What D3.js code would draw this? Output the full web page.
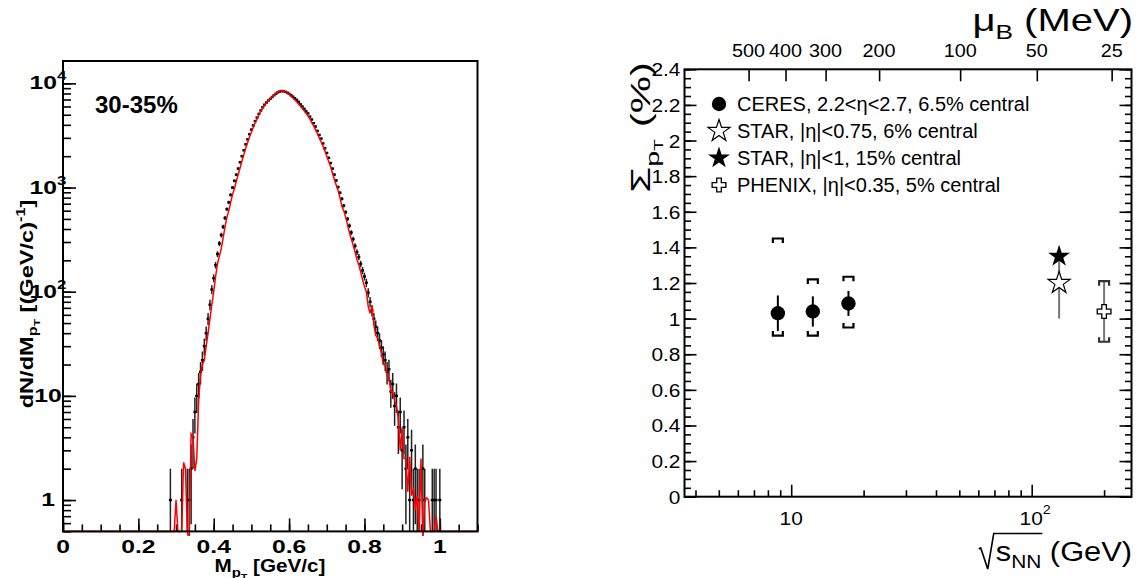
<!DOCTYPE html>
<html>
<head>
<meta charset="utf-8">
<script src="https://d3js.org/d3.v7.min.js"></script>
<style>
  body { margin: 0; background: #fff; }
  text { font-family: "Liberation Sans", Arial, Helvetica, sans-serif; fill: #000; }
</style>
</head>
<body>
<svg id="chart" width="1137" height="578"></svg>
<script>
// ---------- left panel: M_pT distribution, 30-35% centrality ----------
var massBins = d3.range(0, 145).map(function(i) { return +(0.285 + i * 0.005).toFixed(3); });
var dataCounts = [
  1, 0, 0, 0, 0, 0, 1, 0, 0, 1,
  1, 2, 4, 7, 10, 13, 17, 22, 30, 40,
  55, 75, 105, 135, 180, 230, 290, 350, 420, 510,
  620, 720, 850, 1000, 1160, 1330, 1520, 1750, 2000, 2280,
  2600, 2900, 3250, 3600, 3950, 4350, 4700, 5100, 5500, 5900,
  6250, 6550, 6850, 7100, 7400, 7700, 7950, 8200, 8350, 8450,
  8400, 8300, 8150, 7950, 7700, 7450, 7200, 6950, 6650, 6300,
  6000, 5700, 5400, 5150, 4800, 4500, 4150, 3850, 3500, 3200,
  2950, 2650, 2380, 2150, 1930, 1720, 1520, 1330, 1170, 1010,
  890, 780, 670, 580, 500, 430, 370, 320, 275, 240,
  215, 185, 160, 140, 122, 98, 80, 66, 55, 46,
  40, 34, 29, 25, 22, 17, 18, 11, 13, 8,
  10, 5, 7, 3, 5, 2, 4, 1, 3, 1,
  2, 1, 1, 0, 2, 1, 0, 0, 0, 1,
  1, 1, 0, 1, 0
];
var mixedCounts = [
  0, 0, 0, 1.0, 0, 0, 0.5, 2.3, 2.0, 0.5,
  0.4, 4.3, 4.0, 1.9, 2.5, 9, 16, 20, 22, 30,
  40, 55, 75, 100, 140, 185, 220, 260, 330, 420,
  520, 600, 720, 860, 980, 1150, 1330, 1550, 1800, 2080,
  2400, 2700, 3050, 3400, 3800, 4200, 4550, 5000, 5400, 5800,
  6150, 6500, 6850, 7150, 7450, 7750, 8050, 8300, 8450, 8500,
  8450, 8300, 8100, 7850, 7550, 7250, 6950, 6650, 6350, 6050,
  5750, 5450, 5150, 4900, 4550, 4200, 3900, 3600, 3300, 3000,
  2750, 2500, 2250, 2000, 1780, 1600, 1380, 1200, 1060, 940,
  800, 660, 600, 520, 440, 370, 320, 280, 240, 205,
  180, 155, 130, 112, 100, 72, 62, 74, 48, 38,
  36, 30, 26, 20, 20, 16, 15, 11, 11, 9,
  8, 6, 3, 5, 2.5, 2.5, 1.2, 2.6, 1.1, 1.3,
  0.8, 1.1, 0, 2.5, 0.4, 1.0, 1.05, 1.0, 0.5, 0,
  0, 0.7, 0, 0, 0
];
var massTicks = [0, 0.2, 0.4, 0.6, 0.8, 1];
var massTickLabels = ["0", "0.2", "0.4", "0.6", "0.8", "1"];
var countDecades = [1, 10, 100, 1000, 10000];
var countDecadeExp = ["", "", "2", "3", "4"];
var countDecadeBase = ["1", "10", "10", "10", "10"];
var centralityLabel = "30-35%";

// ---------- right panel: Sigma_pT vs sqrt(s_NN) ----------
var ceresSqrtS = [8.8, 12.3, 17.3];
var ceresSigma = [1.03, 1.04, 1.085];
var ceresStat = [0.10, 0.085, 0.07];
var ceresSysUp = [1.45, 1.22, 1.235];
var ceresSysLo = [0.905, 0.905, 0.95];
var starOpenSqrtS = [130];
var starOpenSigma = [1.2];
var starOpenErr = [0.2];
var starFullSqrtS = [130];
var starFullSigma = [1.35];
var phenixSqrtS = [200];
var phenixSigma = [1.04];
var phenixUp = [1.21];
var phenixLo = [0.87];
var sigmaTicks = [0, 0.2, 0.4, 0.6, 0.8, 1, 1.2, 1.4, 1.6, 1.8, 2, 2.2, 2.4];
var sigmaTickLabels = ["0", "0.2", "0.4", "0.6", "0.8", "1", "1.2", "1.4", "1.6", "1.8", "2", "2.2", "2.4"];
var energyMinor = [4, 5, 6, 7, 8, 9, 20, 30, 40, 50, 60, 70, 80, 90, 200];
var energyMajor = [10, 100];
var muBLabels = ["500", "400", "300", "200", "100", "50", "25"];
var muBSqrtS = [6.65, 9.47, 13.9, 23.2, 50.4, 105, 215];
var legendLabels = [
  "CERES, 2.2<\u03b7<2.7, 6.5% central",
  "STAR, |\u03b7|<0.75, 6% central",
  "STAR, |\u03b7|<1, 15% central",
  "PHENIX, |\u03b7|<0.35, 5% central"
];
var legendKinds = ["circle", "openStar", "fullStar", "openCross"];

var svg = d3.select("#chart");
svg.append("rect").attr("width", 1137).attr("height", 578).attr("fill", "#fff");

function styleAxis(g) {
  g.select(".domain").remove();
  g.selectAll(".tick line").attr("stroke", "#000").attr("stroke-width", 1.6);
}

// stretched text helper (ROOT fonts render wider than ours)
function label(g, x, y, rot, sx, size, weight, anchor) {
  return g.append("text")
    .attr("transform", "translate(" + x + "," + y + ") rotate(" + rot + ") scale(" + sx + ",1)")
    .attr("font-size", size)
    .attr("font-weight", weight)
    .attr("text-anchor", anchor);
}

// ================= LEFT PANEL =================
var xL = d3.scaleLinear().domain([0, 1.1]).range([63, 477.5]);
var yL = d3.scaleLog().domain([0.5, 16400]).range([531.4, 61]);
var left = svg.append("g");

left.append("clipPath").attr("id", "clipL").append("rect")
  .attr("x", 63).attr("y", 61).attr("width", 414.5).attr("height", 475);

// ticks
left.append("g").attr("transform", "translate(0,531.4)")
  .call(d3.axisBottom(xL).tickValues(d3.range(0, 23).map(function(i) { return i * 0.05; })).tickSize(-7).tickFormat(""))
  .call(styleAxis);
left.append("g").attr("transform", "translate(0,531.4)")
  .call(d3.axisBottom(xL).tickValues(massTicks).tickSize(-13).tickFormat(""))
  .call(styleAxis);
left.append("g").attr("transform", "translate(63,0)")
  .call(d3.axisLeft(yL).tickValues(yL.ticks()).tickSize(-8).tickFormat(""))
  .call(styleAxis);
left.append("g").attr("transform", "translate(63,0)")
  .call(d3.axisLeft(yL).tickValues(countDecades).tickSize(-13).tickFormat(""))
  .call(styleAxis);

massTicks.forEach(function(d, i) {
  label(left, xL(d), 553, 0, 1.3, 19, "bold", "middle").text(massTickLabels[i]);
});
countDecades.forEach(function(d, i) {
  var t = label(left, 48, yL(d) + 6, 0, 1.3, 19, "bold", "middle");
  t.append("tspan").text(countDecadeBase[i]);
  if (countDecadeExp[i]) t.append("tspan").attr("dy", -9).attr("font-size", 13).text(countDecadeExp[i]);
});

// data points with statistical errors
var plotL = left.append("g").attr("clip-path", "url(#clipL)");
var pts = massBins.map(function(m, i) { return { m: m, v: dataCounts[i], w: mixedCounts[i] }; });
plotL.selectAll("line.err").data(pts.filter(function(d) { return d.v > 0; })).enter()
  .append("line").attr("class", "err")
  .attr("x1", function(d) { return xL(d.m); }).attr("x2", function(d) { return xL(d.m); })
  .attr("y1", function(d) { return yL(Math.max(d.v - Math.sqrt(d.v), 0.5)); })
  .attr("y2", function(d) { return yL(d.v + Math.sqrt(d.v)); })
  .attr("stroke", "#222").attr("stroke-width", 1.5);
plotL.selectAll("rect.pt").data(pts.filter(function(d) { return d.v > 0; })).enter()
  .append("rect").attr("class", "pt")
  .attr("x", function(d) { return xL(d.m) - 1.5; })
  .attr("y", function(d) { return yL(d.v) - 1.2; })
  .attr("width", 3).attr("height", 2.4).attr("fill", "#000");

// mixed events (red line)
var redPts = [{ m: 0, w: 0 }].concat(pts, [{ m: 1.1, w: 0 }]);
var redLine = d3.line()
  .x(function(d) { return xL(d.m); })
  .y(function(d) { return yL(d.w > 0 ? d.w : 0.5); });
plotL.append("path").datum(redPts).attr("d", redLine)
  .attr("fill", "none").attr("stroke", "#f00").attr("stroke-width", 1.5);

left.append("rect").attr("x", 63).attr("y", 61).attr("width", 414.5).attr("height", 470.4)
  .attr("fill", "none").attr("stroke", "#000").attr("stroke-width", 2);

label(left, 95, 112.7, 0, 1, 24, "bold", "start").text(centralityLabel);

var xtL = label(left, 270, 572, 0, 1.15, 18, "bold", "middle");
xtL.append("tspan").text("M");
xtL.append("tspan").attr("font-size", 13).attr("dy", 5).text("p");
xtL.append("tspan").attr("font-size", 9).attr("dy", 3).text("T");
xtL.append("tspan").attr("dy", -8).text(" [GeV/c]");

var ytL = label(left, 33, 304, -90, 1.35, 17.5, "bold", "middle");
ytL.append("tspan").text("dN/dM");
ytL.append("tspan").attr("font-size", 12).attr("dy", 4).text("p");
ytL.append("tspan").attr("font-size", 9).attr("dy", 3).text("T");
ytL.append("tspan").attr("dy", -7).text(" [(GeV/c)");
ytL.append("tspan").attr("font-size", 12).attr("dy", -8).text("-1");
ytL.append("tspan").attr("dy", 8).text("]");

// ================= RIGHT PANEL =================
var xR = d3.scaleLog().domain([3.6, 260]).range([684.5, 1131.5]);
var yR = d3.scaleLinear().domain([0, 2.4]).range([496.7, 69.3]);
var right = svg.append("g");
var sigmaMinor = d3.range(0, 49).map(function(i) { return i * 0.05; });

right.append("g").attr("transform", "translate(684.5,0)")
  .call(d3.axisLeft(yR).tickValues(sigmaMinor).tickSize(-6.5).tickFormat("")).call(styleAxis);
right.append("g").attr("transform", "translate(684.5,0)")
  .call(d3.axisLeft(yR).tickValues(sigmaTicks).tickSize(-12).tickFormat("")).call(styleAxis);
right.append("g").attr("transform", "translate(1131.5,0)")
  .call(d3.axisRight(yR).tickValues(sigmaMinor).tickSize(-6.5).tickFormat("")).call(styleAxis);
right.append("g").attr("transform", "translate(1131.5,0)")
  .call(d3.axisRight(yR).tickValues(sigmaTicks).tickSize(-12).tickFormat("")).call(styleAxis);
right.append("g").attr("transform", "translate(0,496.7)")
  .call(d3.axisBottom(xR).tickValues(energyMinor).tickSize(-6.5).tickFormat("")).call(styleAxis);
right.append("g").attr("transform", "translate(0,496.7)")
  .call(d3.axisBottom(xR).tickValues(energyMajor).tickSize(-12).tickFormat("")).call(styleAxis);
right.append("g").attr("transform", "translate(0,69.3)")
  .call(d3.axisTop(xR).tickValues(muBSqrtS).tickSize(-12).tickFormat("")).call(styleAxis);

sigmaTicks.forEach(function(d, i) {
  label(right, 680.5, yR(d) + 7, 0, 1.1, 19, "normal", "end").text(sigmaTickLabels[i]);
});
muBSqrtS.forEach(function(d, i) {
  label(right, xR(d), 57, 0, 1.1, 18, "normal", "middle").text(muBLabels[i]);
});
label(right, xR(10), 525, 0, 1.1, 19, "normal", "middle").text("10");
var e2 = label(right, xR(100), 525, 0, 1.1, 19, "normal", "start");
e2.append("tspan").attr("dx", -11).text("10");
e2.append("tspan").attr("dy", -11).attr("font-size", 13).text("2");

right.append("rect").attr("x", 684.5).attr("y", 69.3).attr("width", 447).attr("height", 427.4)
  .attr("fill", "none").attr("stroke", "#000").attr("stroke-width", 2);

// bracket helper for systematic errors
function bracket(g, x, y, dir, color) {
  var hw = 5, leg = 4.5 * dir;
  g.append("path")
    .attr("d", "M" + (x - hw) + "," + (y + leg) + "V" + y + "H" + (x + hw) + "V" + (y + leg))
    .attr("fill", "none").attr("stroke", color).attr("stroke-width", 2.2);
}

var starSym = d3.symbol().type(d3.symbolStar).size(150);
var crossSym = d3.symbol().type(d3.symbolCross).size(105);

// CERES
ceresSqrtS.forEach(function(s, i) {
  var x = xR(s);
  right.append("line").attr("x1", x).attr("x2", x)
    .attr("y1", yR(ceresSigma[i] - ceresStat[i])).attr("y2", yR(ceresSigma[i] + ceresStat[i]))
    .attr("stroke", "#000").attr("stroke-width", 2);
  bracket(right, x, yR(ceresSysUp[i]), 1, "#000");
  bracket(right, x, yR(ceresSysLo[i]), -1, "#000");
  right.append("circle").attr("cx", x).attr("cy", yR(ceresSigma[i])).attr("r", 7.2).attr("fill", "#000");
});

// STAR
starOpenSqrtS.forEach(function(s, i) {
  var x = xR(s);
  right.append("line").attr("x1", x).attr("x2", x)
    .attr("y1", yR(starOpenSigma[i] - starOpenErr[i])).attr("y2", yR(starOpenSigma[i] + starOpenErr[i]))
    .attr("stroke", "#777").attr("stroke-width", 2);
  right.append("path").attr("d", starSym).attr("transform", "translate(" + x + "," + yR(starOpenSigma[i]) + ")")
    .attr("fill", "#fff").attr("stroke", "#000").attr("stroke-width", 1.2);
});
starFullSqrtS.forEach(function(s, i) {
  right.append("path").attr("d", starSym).attr("transform", "translate(" + xR(s) + "," + yR(starFullSigma[i]) + ")")
    .attr("fill", "#000");
});

// PHENIX
phenixSqrtS.forEach(function(s, i) {
  var x = xR(s);
  right.append("line").attr("x1", x).attr("x2", x)
    .attr("y1", yR(phenixLo[i])).attr("y2", yR(phenixUp[i]))
    .attr("stroke", "#777").attr("stroke-width", 2);
  bracket(right, x, yR(phenixUp[i]), 1, "#333");
  bracket(right, x, yR(phenixLo[i]), -1, "#333");
  right.append("path").attr("d", crossSym).attr("transform", "translate(" + x + "," + yR(phenixSigma[i]) + ")")
    .attr("fill", "#fff").attr("stroke", "#000").attr("stroke-width", 1.3);
});

// legend
var legendY = [104, 131, 158, 185];
legendLabels.forEach(function(t, i) {
  var y = legendY[i], x = 719;
  var k = legendKinds[i];
  if (k === "circle") right.append("circle").attr("cx", x).attr("cy", y).attr("r", 7.2).attr("fill", "#000");
  if (k === "openStar") right.append("path").attr("d", starSym).attr("transform", "translate(" + x + "," + y + ")")
    .attr("fill", "#fff").attr("stroke", "#000").attr("stroke-width", 1.2);
  if (k === "fullStar") right.append("path").attr("d", starSym).attr("transform", "translate(" + x + "," + y + ")").attr("fill", "#000");
  if (k === "openCross") right.append("path").attr("d", crossSym).attr("transform", "translate(" + x + "," + y + ")")
    .attr("fill", "#fff").attr("stroke", "#000").attr("stroke-width", 1.3);
  label(right, 737, y + 7, 0, 1, 20, "normal", "start").text(t);
});

// axis titles
var tt = label(right, 1133, 31, 0, 1.25, 32, "normal", "end");
tt.append("tspan").text("\u03bc");
tt.append("tspan").attr("font-size", 21).attr("dy", 8).text("B");
tt.append("tspan").attr("dy", -8).text(" (MeV)");

var xtSx = 1.1;
var xt = label(right, 1132, 561, 0, xtSx, 28, "normal", "end");
xt.append("tspan").text("s");
xt.append("tspan").attr("font-size", 19).attr("dy", 7).text("NN");
xt.append("tspan").attr("dy", -7).text(" (GeV)");
// radical sign over s_NN (extents are in the text's local frame)
var sBox = xt.node().getExtentOfChar(0), nBox = xt.node().getExtentOfChar(2);
var sx0 = 1132 + sBox.x * xtSx, nx1 = 1132 + (nBox.x + nBox.width) * xtSx;
right.append("path")
  .attr("d", "M" + (sx0 - 17) + ",549 L" + (sx0 - 15) + ",548 L" + (sx0 - 8) + ",569 L" + (sx0 - 2) + ",533.5 H" + (nx1 + 1))
  .attr("fill", "none").attr("stroke", "#000").attr("stroke-width", 1.6);

var yt = label(right, 650, 62, -90, 1.5, 28, "normal", "end");
yt.append("tspan").text("\u03a3");
yt.append("tspan").attr("font-size", 19).attr("dy", 9).text("p");
yt.append("tspan").attr("font-size", 13).attr("dy", 4).text("T");
yt.append("tspan").attr("dy", -13).text(" (%)");
</script>
</body>
</html>
